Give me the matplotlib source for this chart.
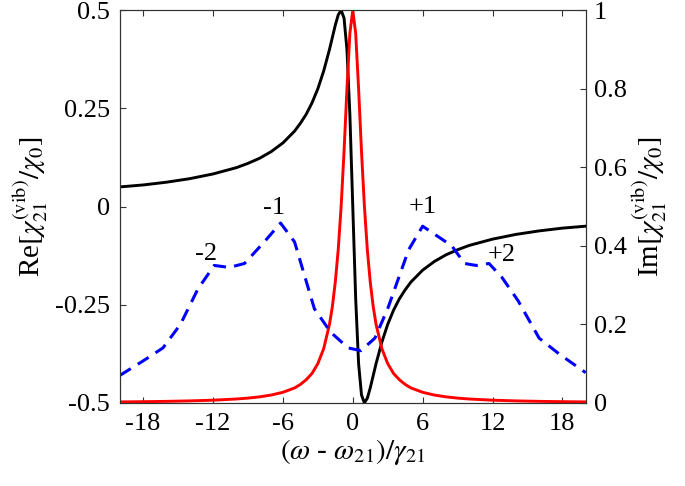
import matplotlib
matplotlib.use("Agg")
import matplotlib.pyplot as plt

# значения
x_lor = [-20, -18, -16, -14, -12, -10, -9, -8, -7, -6, -5, -4.5, -4, -3.5, -3,
         -2.5, -2, -1.75, -1.5, -1.25, -1, -0.75, -0.5, -0.25, 0,
         0.25, 0.5, 0.75, 1, 1.25, 1.5, 1.75, 2, 2.5, 3, 3.5, 4, 4.5, 5,
         6, 7, 8, 9, 10, 12, 14, 16, 18, 20]
re_chi = [0.050, 0.055, 0.062, 0.071, 0.083, 0.099, 0.110, 0.123, 0.140, 0.162,
          0.192, 0.212, 0.235, 0.264, 0.300, 0.345, 0.400, 0.431, 0.462, 0.488,
          0.500, 0.480, 0.400, 0.235, 0.0,
          -0.235, -0.400, -0.480, -0.500, -0.488, -0.462, -0.431, -0.400, -0.345,
          -0.300, -0.264, -0.235, -0.212, -0.192, -0.162, -0.140, -0.123, -0.110,
          -0.099, -0.083, -0.071, -0.062, -0.055, -0.050]
im_chi = [0.0025, 0.0031, 0.0039, 0.0051, 0.0069, 0.0099, 0.0122, 0.0154, 0.020,
          0.027, 0.038, 0.047, 0.059, 0.075, 0.100, 0.138, 0.200, 0.246, 0.308,
          0.390, 0.500, 0.640, 0.800, 0.941, 1.000,
          0.941, 0.800, 0.640, 0.500, 0.390, 0.308, 0.246, 0.200, 0.138, 0.100,
          0.075, 0.059, 0.047, 0.038, 0.027, 0.020, 0.0154, 0.0122, 0.0099,
          0.0069, 0.0051, 0.0039, 0.0031, 0.0025]

x_blue = [-20, -18, -16.3, -14.8, -13.3, -11.9, -10.6, -9.3, -7.6, -6.2, -5.0,
          -3.3, -1.9, -0.4, 0.7, 1.9, 3.0, 4.8, 6.0, 8.5, 9.6, 10.6, 11.7,
          12.8, 14.2, 16.0, 17.7, 20]
y_blue = [0.07, 0.107, 0.14, 0.20, 0.29, 0.35, 0.345, 0.355, 0.41, 0.458, 0.41,
          0.24, 0.18, 0.14, 0.133, 0.165, 0.24, 0.39, 0.45, 0.40, 0.355, 0.35,
          0.355, 0.32, 0.26, 0.165, 0.125, 0.077]

peak_labels = ["-2", "-1", "+1", "+2"]
peak_x = [-12.6, -6.8, 6.0, 12.8]
peak_y = [0.38, 0.496, 0.50, 0.376]

plt.rcParams["font.family"] = ["Liberation Serif", "DejaVu Serif"]
plt.rcParams["mathtext.fontset"] = "stix"
plt.rcParams["font.size"] = 18

fig = plt.figure(figsize=(6.85, 4.86), dpi=100)
ax = fig.add_axes([0.175, 0.171, 0.68, 0.808])
ax2 = ax.twinx()

ax.plot(x_lor, re_chi, color="black", lw=2.1, zorder=3)
ax2.plot(x_lor, im_chi, color="red", lw=2.1)
ax2.plot(x_blue, y_blue, color="blue", lw=2.2, dashes=(4.2, 2.7))

for lab, px, py in zip(peak_labels, peak_x, peak_y):
    ax2.text(px, py, lab, ha="center", va="center", fontsize=19)

ax.set_xlim(-20, 20)
ax.set_ylim(-0.5, 0.5)
ax2.set_ylim(0, 1)
ax.set_xticks([-18, -12, -6, 0, 6, 12, 18])
ax.set_xticklabels(["-18", "-12", "-6", "0", "6", "12", "18"])
ax.set_yticks([-0.5, -0.25, 0, 0.25, 0.5])
ax.set_yticklabels(["-0.5", "-0.25", "0", "0.25", "0.5"])
ax2.set_yticks([0, 0.2, 0.4, 0.6, 0.8, 1])
ax2.set_yticklabels(["0", "0.2", "0.4", "0.6", "0.8", "1"])

ax.tick_params(direction="in", top=True, length=4, width=0.8, color="#333333",
               pad=7, labelsize=19)
ax2.tick_params(direction="in", length=4, width=0.8, color="#333333", pad=6,
                labelsize=19)
for a in (ax, ax2):
    for sp in a.spines.values():
        sp.set_color("#333333")
        sp.set_linewidth(0.8)

ax.set_xlabel(r"$(\omega$ - $\omega_{21})/\gamma_{21}$", fontsize=21, labelpad=2)
ax.set_ylabel(r"Re$[\chi_{21}^{(\mathrm{vib})}/\chi_0]$", fontsize=21, labelpad=4)
ax2.set_ylabel(r"Im$[\chi_{21}^{(\mathrm{vib})}/\chi_0]$", fontsize=21, labelpad=2)

fig.savefig("out.png", dpi=100)
